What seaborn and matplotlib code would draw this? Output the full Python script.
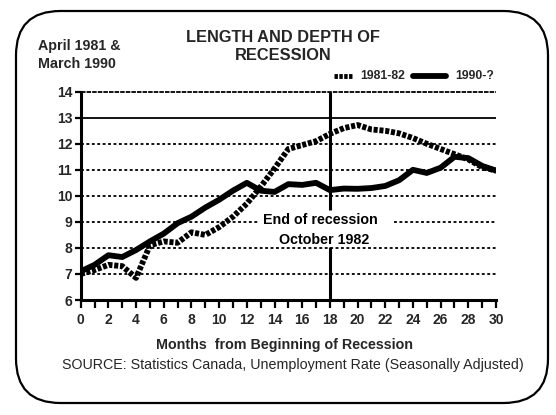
import matplotlib
matplotlib.use("Agg")
import matplotlib.pyplot as plt
from matplotlib.patches import FancyBboxPatch
import numpy as np
import pandas as pd
import seaborn as sns

# ---- data ----
months = list(range(0, 31))
rate_1981 = [7.0, 7.15, 7.35, 7.3, 6.85, 8.1, 8.25, 8.2, 8.6, 8.5, 8.8, 9.2, 9.7, 10.35,
             11.05, 11.8, 11.95, 12.1, 12.38, 12.6, 12.72, 12.55, 12.5, 12.4, 12.22,
             12.0, 11.8, 11.6, 11.4, 11.1, 10.97]
rate_1990 = [7.1, 7.35, 7.72, 7.65, 7.92, 8.25, 8.55, 8.95, 9.2, 9.55, 9.85, 10.2, 10.5,
             10.2, 10.15, 10.45, 10.42, 10.5, 10.22, 10.28, 10.27, 10.3, 10.38, 10.6,
             11.0, 10.88, 11.08, 11.5, 11.45, 11.15, 10.97]
series_names = ["1981-82", "1990-?"]
y_ticks = [6, 7, 8, 9, 10, 11, 12, 13, 14]
x_major = list(range(0, 31, 2))
title_lines = ["LENGTH AND DEPTH OF", "RECESSION"]
ylabel_lines = ["April 1981 &", "March 1990"]
annot_lines = ["End of recession", "October 1982"]
end_month = 18
xlabel = "Months  from Beginning of Recession"
source = "SOURCE: Statistics Canada, Unemployment Rate (Seasonally Adjusted)"

df = pd.DataFrame({
    "month": months * 2,
    "rate": rate_1981 + rate_1990,
    "period": [series_names[0]] * len(months) + [series_names[1]] * len(months),
})

sns.set_theme(style="white")
plt.rcParams["font.family"] = ["Liberation Sans", "DejaVu Sans"]

W, H = 556, 415
fig = plt.figure(figsize=(W / 100, H / 100), dpi=100)
fig.patch.set_facecolor("white")

# rounded frame
frame = FancyBboxPatch((16 / W, 1 - 403 / H), (548 - 16) / W, (403 - 11) / H,
                       boxstyle="round,pad=0,rounding_size=0.08",
                       transform=fig.transFigure, fill=False,
                       edgecolor="black", linewidth=1.6,
                       mutation_aspect=W / H)
fig.patches.append(frame)

ax = fig.add_axes([80.7 / W, 1 - 300 / H, (496 - 80.7) / W, (300 - 91.7) / H])
ax.set_facecolor("white")

ax.set_xlim(0, 30)
ax.set_ylim(6, 14)

# grid lines
grid_ls = (0, (1.6, 1.4))
for yv in [7, 8, 10, 11, 12]:
    ax.axhline(yv, color="black", lw=1.3, ls=grid_ls, zorder=1)
ax.hlines(9, 0, 12.9, color="black", lw=1.3, ls=grid_ls, zorder=1)
ax.hlines(9, 22.6, 30, color="black", lw=1.3, ls=grid_ls, zorder=1)
ax.axhline(13, color="black", lw=1.3, zorder=1)
ax.axhline(14, color="black", lw=1.3, ls=(0, (2.5, 0.6)), zorder=1, clip_on=False)

# end-of-recession vertical line (two segments around annotation)
ax.vlines(end_month, 9.45, 14, color="black", lw=2.2, zorder=2)
ax.vlines(end_month, 6, 8.02, color="black", lw=2.2, zorder=2)

sns.lineplot(data=df, x="month", y="rate", hue="period", style="period",
             palette={series_names[0]: "black", series_names[1]: "black"},
             dashes={series_names[0]: (0.7, 0.3), series_names[1]: ""},
             linewidth=4.2, legend=False, ax=ax, zorder=3)
for ln in ax.get_lines()[-2:]:
    ln.set_solid_capstyle("round")

ax.text(17.3, 9.08, annot_lines[0], ha="center", va="center", fontsize=10.3,
        fontweight="bold", color="black")
ax.text(17.6, 8.32, annot_lines[1], ha="center", va="center", fontsize=10.3,
        fontweight="bold", color="black")

# axes styling
for s in ["top", "right"]:
    ax.spines[s].set_visible(False)
for s in ["left", "bottom"]:
    ax.spines[s].set_linewidth(2.2)
    ax.spines[s].set_color("black")
ax.set_yticks(y_ticks)
ax.set_yticklabels([str(v) for v in y_ticks])
ax.set_xticks(x_major)
ax.set_xticklabels([str(v) for v in x_major])
ax.set_xticks(months, minor=True)
ax.tick_params(axis="x", which="both", direction="out", length=6, width=1.6,
               color="black", labelsize=10, pad=3)
ax.tick_params(axis="y", which="both", direction="out", length=4, width=1.6,
               color="black", labelsize=10, pad=2)
ax.tick_params(left=True, bottom=True)
ax.tick_params(axis="x", which="minor", bottom=True)
for lab in ax.get_xticklabels() + ax.get_yticklabels():
    lab.set_fontweight("bold")
ax.set_xlabel("")
ax.set_ylabel("")

# figure texts
fig.text(283 / W, 1 - 37 / H, title_lines[0], ha="center", va="center",
         fontsize=11.8, fontweight="bold")
fig.text(283 / W, 1 - 56 / H, title_lines[1], ha="center", va="center",
         fontsize=11.8, fontweight="bold")
fig.text(38 / W, 1 - 46 / H, ylabel_lines[0], ha="left", va="center",
         fontsize=10.3, fontweight="bold")
fig.text(38 / W, 1 - 64 / H, ylabel_lines[1], ha="left", va="center",
         fontsize=10.3, fontweight="bold")

# legend
ly = 1 - 76 / H
fig.add_artist(plt.Line2D([334 / W, 352 / W], [ly, ly], color="black", lw=3.5,
                          ls=(0, (0.7, 0.3)), transform=fig.transFigure))
fig.text(360 / W, ly, series_names[0], ha="left", va="center", fontsize=8.8,
         fontweight="bold")
fig.add_artist(plt.Line2D([413 / W, 446 / W], [ly, ly], color="black", lw=4.2,
                          transform=fig.transFigure))
fig.text(455 / W, ly, series_names[1], ha="left", va="center", fontsize=8.8,
         fontweight="bold")

fig.text(285 / W, 1 - 345 / H, xlabel, ha="center", va="center", fontsize=10.3,
         fontweight="bold")
fig.text(293 / W, 1 - 365 / H, source, ha="center", va="center", fontsize=10.3)

fig.savefig("out.png", dpi=100, facecolor="white")
